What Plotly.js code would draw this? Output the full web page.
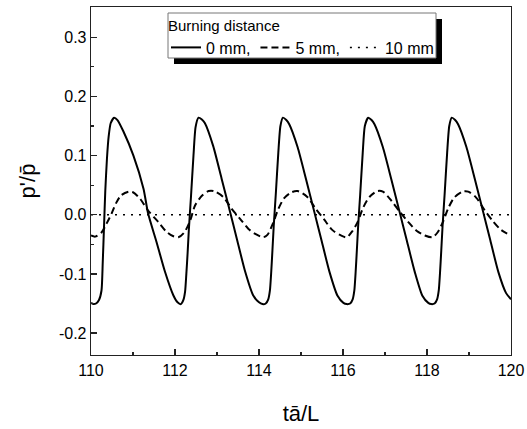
<!DOCTYPE html>
<html>
<head>
<meta charset="utf-8">
<script src="https://cdn.plot.ly/plotly-3.0.1.min.js"></script>
<style>html,body{margin:0;padding:0;background:#fff;}#chart{width:527px;height:429px;}</style>
</head>
<body>
<div id="chart"></div>
<script>
// Series: burning distance 0 mm (solid)
const x0mm = [110.00,110.06,110.12,110.19,110.25,110.28,110.31,110.34,110.38,110.42,110.47,110.55,110.63,110.77,111.01,111.25,111.36,111.56,111.76,111.96,
  112.06,112.14,112.20,112.24,112.27,112.30,112.33,112.38,112.44,112.49,112.56,112.64,112.71,112.91,113.11,113.31,113.47,113.67,113.86,114.00,
  114.08,114.16,114.22,114.26,114.29,114.32,114.35,114.40,114.46,114.51,114.57,114.65,114.72,114.92,115.12,115.32,115.48,115.68,115.87,116.01,
  116.09,116.17,116.23,116.27,116.30,116.33,116.36,116.41,116.47,116.52,116.60,116.68,116.75,116.95,117.15,117.35,117.51,117.71,117.89,118.03,
  118.10,118.18,118.24,118.28,118.31,118.34,118.37,118.42,118.48,118.53,118.59,118.67,118.74,118.94,119.14,119.34,119.50,119.70,119.88,120.00];
const y0mm = [-0.149,-0.151,-0.150,-0.144,-0.128,-0.080,-0.020,0.040,0.095,0.132,0.155,0.164,0.160,0.141,0.100,0.044,0.002,-0.046,-0.096,-0.136,
  -0.148,-0.151,-0.144,-0.130,-0.100,-0.065,-0.025,0.030,0.100,0.148,0.164,0.161,0.155,0.116,0.061,0.005,-0.040,-0.096,-0.136,-0.148,
  -0.151,-0.150,-0.143,-0.128,-0.098,-0.060,-0.020,0.035,0.105,0.150,0.164,0.160,0.153,0.114,0.060,0.004,-0.041,-0.097,-0.137,-0.149,
  -0.151,-0.150,-0.143,-0.128,-0.098,-0.060,-0.020,0.035,0.105,0.150,0.164,0.160,0.153,0.114,0.060,0.004,-0.041,-0.097,-0.137,-0.149,
  -0.151,-0.150,-0.143,-0.128,-0.098,-0.060,-0.020,0.035,0.105,0.150,0.164,0.160,0.153,0.114,0.060,0.004,-0.041,-0.097,-0.132,-0.143];

// Series: burning distance 5 mm (dashed)
const x5mm = [110.00,110.10,110.25,110.37,110.49,110.60,110.72,110.90,111.00,111.17,111.36,111.60,111.80,111.95,
  112.08,112.22,112.36,112.48,112.64,112.80,112.92,113.15,113.35,113.55,113.75,113.90,
  114.10,114.20,114.33,114.45,114.60,114.78,114.92,115.15,115.35,115.55,115.75,115.95,
  116.09,116.22,116.35,116.48,116.63,116.82,116.95,117.15,117.35,117.55,117.75,117.95,
  118.13,118.25,118.38,118.50,118.65,118.85,118.98,119.17,119.37,119.57,119.77,120.00];
const y5mm = [-0.035,-0.037,-0.030,-0.015,0.002,0.020,0.033,0.039,0.038,0.027,0.007,-0.012,-0.029,-0.036,
  -0.038,-0.030,-0.010,0.016,0.032,0.040,0.040,0.030,0.010,-0.007,-0.024,-0.032,
  -0.038,-0.034,-0.015,0.008,0.028,0.038,0.040,0.030,0.010,-0.008,-0.026,-0.035,
  -0.038,-0.028,-0.012,0.012,0.030,0.040,0.039,0.024,0.005,-0.012,-0.027,-0.035,
  -0.038,-0.030,-0.012,0.010,0.029,0.039,0.039,0.029,0.008,-0.011,-0.026,-0.035];

// Series: burning distance 10 mm (dotted)
const x10mm = [110, 120];
const y10mm = [0.0, 0.0];

const seriesNames = ['0 mm,', '5 mm,', '10 mm'];
const legendTitle = 'Burning distance';
const xTicks = [110, 112, 114, 116, 118, 120];
const yTicks = [-0.2, -0.1, 0.0, 0.1, 0.2, 0.3];
const yTickText = ['-0.2', '-0.1', '0.0', '0.1', '0.2', '0.3'];

const FONT = 'Liberation Sans, Arial, sans-serif';

const traces = [
  {x: x0mm, y: y0mm, name: seriesNames[0], type: 'scatter', mode: 'lines',
   line: {color: '#000', width: 2, shape: 'spline', smoothing: 0.6}},
  {x: x5mm, y: y5mm, name: seriesNames[1], type: 'scatter', mode: 'lines',
   line: {color: '#000', width: 2, dash: '7px,4px', shape: 'spline', smoothing: 0.8}},
  {x: x10mm, y: y10mm, name: seriesNames[2], type: 'scatter', mode: 'lines',
   line: {color: '#000', width: 1.5, dash: '2px,6px'}}
];

const axisCommon = {
  showgrid: false, zeroline: false, showline: true, linecolor: '#222', linewidth: 1.3,
  mirror: true, ticks: 'inside', ticklen: 6, tickwidth: 1.3, tickcolor: '#222',
  tickfont: {family: FONT, size: 16, color: '#000'}
};

const layout = {
  width: 527, height: 429,
  margin: {l: 91, r: 16, t: 7, b: 74},
  paper_bgcolor: '#fff', plot_bgcolor: '#fff',
  font: {family: FONT, color: '#000'},
  showlegend: true,
  xaxis: Object.assign({}, axisCommon, {
    range: [110, 120], tickvals: xTicks, ticktext: xTicks.map(String),
    minor: {dtick: 1, tick0: 110, ticks: 'inside', ticklen: 3, tickwidth: 1.2, tickcolor: '#222'},
    title: {text: 'tā/L', font: {family: FONT, size: 22, color: '#000'}, standoff: 28}
  }),
  yaxis: Object.assign({}, axisCommon, {
    range: [-0.237, 0.351], tickvals: yTicks, ticktext: yTickText,
    minor: {dtick: 0.05, tick0: 0, ticks: 'inside', ticklen: 3, tickwidth: 1.2, tickcolor: '#222'},
    title: {text: "p'/p\u0304", font: {family: FONT, size: 22, color: '#000'}, standoff: 17}
  }),
  legend: {
    x: (166 - 91) / 420, y: (355 - 11) / 348, xanchor: 'left', yanchor: 'top',
    orientation: 'h', bgcolor: 'rgba(0,0,0,0)', borderwidth: 0,
    font: {family: FONT, size: 16, color: '#000'},
    title: {text: legendTitle, side: 'top', font: {family: FONT, size: 15, color: '#000'}},
    itemwidth: 30
  },
  shapes: [
    {type: 'rect', xref: 'paper', yref: 'paper', layer: 'above',
     x0: (174 - 91) / 420, x1: (442 - 91) / 420, y0: (355 - 64) / 348, y1: (355 - 19) / 348,
     fillcolor: '#000', line: {width: 0}},
    {type: 'rect', xref: 'paper', yref: 'paper', layer: 'above',
     x0: (168 - 91) / 420, x1: (436 - 91) / 420, y0: (355 - 58) / 348, y1: (355 - 13) / 348,
     fillcolor: '#fff', line: {width: 1, color: '#777'}}
  ]
};

Plotly.newPlot('chart', traces, layout, {displayModeBar: false, staticPlot: true});
</script>
</body>
</html>
